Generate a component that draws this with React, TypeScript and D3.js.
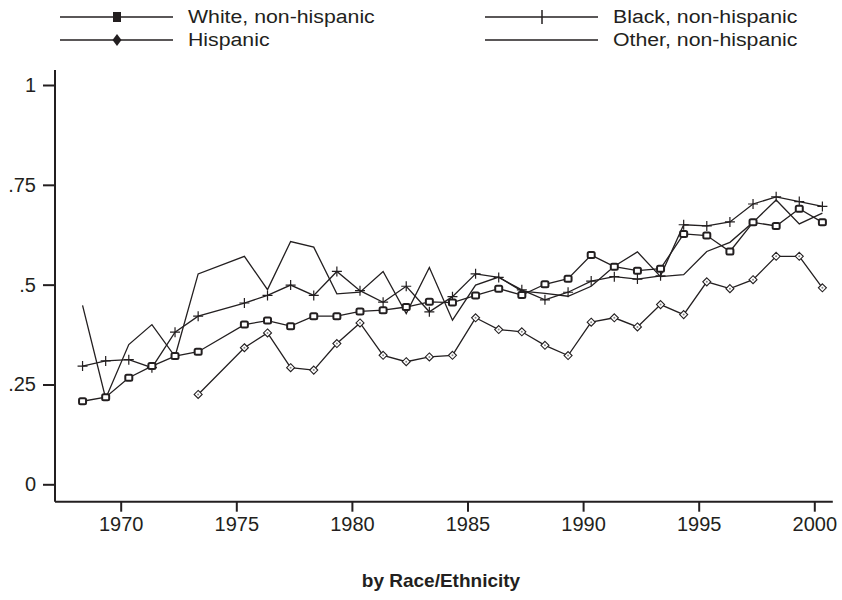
import { useEffect, useRef } from 'react';
import * as d3 from 'd3';

// survey years, 1974 has no data for any group
const years = d3.range(1968, 2001);

const white = [0.208, 0.218, 0.267, 0.296, 0.321, 0.332, null, 0.40, 0.41, 0.396, 0.421, 0.421, 0.433, 0.436, 0.444, 0.457, 0.455, 0.473, 0.49, 0.474, 0.501, 0.515, 0.574, 0.545, 0.535, 0.54, 0.627, 0.623, 0.583, 0.656, 0.647, 0.69, 0.656];
const black = [0.296, 0.309, 0.312, 0.292, 0.381, 0.421, null, 0.454, 0.473, 0.499, 0.473, 0.533, 0.485, 0.456, 0.496, 0.432, 0.47, 0.527, 0.518, 0.487, 0.462, 0.481, 0.509, 0.52, 0.514, 0.522, 0.65, 0.647, 0.657, 0.702, 0.72, 0.708, 0.696];
const hispanic = [null, null, null, null, null, 0.225, null, 0.342, 0.379, 0.292, 0.286, 0.3525, 0.404, 0.323, 0.307, 0.319, 0.323, 0.417, 0.3875, 0.382, 0.348, 0.3225, 0.406, 0.417, 0.394, 0.45, 0.425, 0.507, 0.49, 0.5125, 0.571, 0.571, 0.492];
const other = [0.448, 0.215, 0.35, 0.40, 0.32, 0.527, null, 0.571, 0.4875, 0.608, 0.594, 0.477, 0.481, 0.533, 0.4275, 0.543, 0.411, 0.499, 0.519, 0.484, 0.478, 0.471, 0.496, 0.546, 0.582, 0.52, 0.525, 0.583, 0.606, 0.656, 0.712, 0.652, 0.679];

const xTicks = [1970, 1975, 1980, 1985, 1990, 1995, 2000];
const yTicks = [0, 0.25, 0.5, 0.75, 1];
const yTickLabels = ['0', '.25', '.5', '.75', '1'];

const seriesNames = ['White, non-hispanic', 'Black, non-hispanic', 'Hispanic', 'Other, non-hispanic'];

const App = () => {
    const svgRef = useRef<SVGSVGElement>(null);

    useEffect(() => {
        if (!svgRef.current) return;
        const svg = d3.select(svgRef.current);
        svg.selectAll('*').remove();

        const font = 'Liberation Sans, Arial, Helvetica, sans-serif';
        const ink = '#231f20';
        const offset = 0.35; // points sit a bit after the year tick

        const x = d3.scaleLinear().domain([1970, 2000]).range([120.7, 814.3]);
        const y = d3.scaleLinear().domain([0, 1]).range([484.3, 85]);

        const toPoints = (vals: (number | null)[]) =>
            years.map((yr, i) => ({ yr, v: vals[i] })).filter(d => d.v !== null) as { yr: number; v: number }[];

        const line = d3.line<{ yr: number; v: number }>()
            .x(d => x(d.yr + offset))
            .y(d => y(d.v));

        // axes
        const xAxisY = 501.7;
        const yAxisX = 55;
        svg.append('line')
            .attr('x1', yAxisX).attr('x2', yAxisX)
            .attr('y1', 70).attr('y2', xAxisY)
            .attr('stroke', ink).attr('stroke-width', 2);
        svg.append('line')
            .attr('x1', yAxisX).attr('x2', x(2000.8))
            .attr('y1', xAxisY).attr('y2', xAxisY)
            .attr('stroke', ink).attr('stroke-width', 2);

        const xAxis = svg.append('g')
            .attr('transform', `translate(0,${xAxisY})`)
            .call(d3.axisBottom(x).tickValues(xTicks).tickFormat(d3.format('d')).tickSize(10).tickPadding(5));
        xAxis.select('.domain').remove();
        xAxis.selectAll('line').attr('stroke', ink).attr('stroke-width', 2);
        xAxis.selectAll('text').attr('font-family', font).attr('font-size', 20).attr('fill', ink);

        const yAxis = svg.append('g')
            .attr('transform', `translate(${yAxisX},0)`)
            .call(d3.axisLeft(y).tickValues(yTicks).tickFormat((_, i) => yTickLabels[i]).tickSize(12).tickPadding(7));
        yAxis.select('.domain').remove();
        yAxis.selectAll('line').attr('stroke', ink).attr('stroke-width', 2);
        yAxis.selectAll('text').attr('font-family', font).attr('font-size', 20).attr('fill', ink);

        const plot = svg.append('g');

        // Other: plain line
        plot.append('path').datum(toPoints(other)).attr('d', line)
            .attr('fill', 'none').attr('stroke', ink).attr('stroke-width', 1.3);

        // Black: plus markers
        const bPts = toPoints(black);
        plot.append('path').datum(bPts).attr('d', line)
            .attr('fill', 'none').attr('stroke', ink).attr('stroke-width', 1.3);
        plot.selectAll('.plus').data(bPts).enter().append('path')
            .attr('d', d => {
                const cx = x(d.yr + offset), cy = y(d.v);
                return `M${cx - 5},${cy}H${cx + 5}M${cx},${cy - 5}V${cy + 5}`;
            })
            .attr('stroke', ink).attr('stroke-width', 1.2);

        // Hispanic: small diamonds
        const hPts = toPoints(hispanic);
        plot.append('path').datum(hPts).attr('d', line)
            .attr('fill', 'none').attr('stroke', ink).attr('stroke-width', 1.3);
        plot.selectAll('.dia').data(hPts).enter().append('path')
            .attr('d', d => {
                const cx = x(d.yr + offset), cy = y(d.v);
                return `M${cx},${cy - 4}L${cx + 4},${cy}L${cx},${cy + 4}L${cx - 4},${cy}Z`;
            })
            .attr('fill', '#fff').attr('stroke', ink).attr('stroke-width', 1.1);
        plot.selectAll('.diadot').data(hPts).enter().append('circle')
            .attr('cx', d => x(d.yr + offset)).attr('cy', d => y(d.v))
            .attr('r', 1).attr('fill', '#888');

        // White: squares
        const wPts = toPoints(white);
        plot.append('path').datum(wPts).attr('d', line)
            .attr('fill', 'none').attr('stroke', ink).attr('stroke-width', 1.3);
        plot.selectAll('.sq').data(wPts).enter().append('rect')
            .attr('x', d => x(d.yr + offset) - 3.5)
            .attr('y', d => y(d.v) - 3)
            .attr('width', 7).attr('height', 6)
            .attr('rx', 1.5)
            .attr('fill', '#fff').attr('stroke', ink).attr('stroke-width', 2);

        // legend
        const legend = svg.append('g');
        const cols = [60, 485];
        const rows = [17, 40];
        const lineLen = 113;
        const pos = [[0, 0], [1, 0], [0, 1], [1, 1]];
        seriesNames.forEach((name, i) => {
            const lx = cols[pos[i][0]], ly = rows[pos[i][1]];
            const mx = lx + 57;
            legend.append('line')
                .attr('x1', lx).attr('x2', lx + lineLen)
                .attr('y1', ly).attr('y2', ly)
                .attr('stroke', ink).attr('stroke-width', 1.3);
            if (i === 0) {
                legend.append('rect').attr('x', mx - 4).attr('y', ly - 5)
                    .attr('width', 8).attr('height', 10).attr('fill', ink);
            } else if (i === 1) {
                legend.append('line').attr('x1', mx).attr('x2', mx)
                    .attr('y1', ly - 7).attr('y2', ly + 7)
                    .attr('stroke', ink).attr('stroke-width', 1.5);
            } else if (i === 2) {
                legend.append('path')
                    .attr('d', `M${mx},${ly - 6}L${mx + 4.5},${ly}L${mx},${ly + 6}L${mx - 4.5},${ly}Z`)
                    .attr('fill', ink);
            }
            legend.append('text')
                .attr('transform', `translate(${lx + lineLen + 15},${ly + 6}) scale(1.12,1)`)
                .attr('font-family', font).attr('font-size', 19).attr('fill', ink)
                .text(name);
        });

        // caption
        svg.append('text')
            .attr('x', 441).attr('y', 587)
            .attr('text-anchor', 'middle')
            .attr('font-family', font).attr('font-size', 19).attr('font-weight', 'bold')
            .attr('fill', ink)
            .text('by Race/Ethnicity');
    }, []);

    return (
        <svg ref={svgRef} width={842} height={600}
            style={{ position: 'absolute', left: 0, top: 0, background: '#fff' }} />
    );
};

export default App;
